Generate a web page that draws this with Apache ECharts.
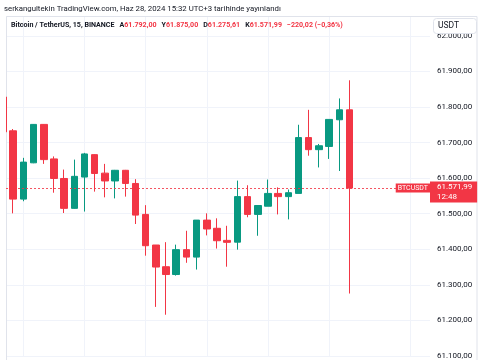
<!DOCTYPE html>
<html><head><meta charset="utf-8">
<script src="https://cdn.jsdelivr.net/npm/echarts@6/dist/echarts.min.js"></script>
<style>html,body{margin:0;padding:0;background:#fff}#c{width:485px;height:360px}</style>
</head><body><div id="c"></div>
<script>
// ---- data (BTCUSDT 15m) ----
const openP  = [61828,61733,61541,61643,61751,61654,61599,61515,61603,61666,61614,61592,61622,61585,61498,61412,61351,61329,61399,61378,61482,61459,61425,61420,61548,61498,61521,61557,61548,61557,61714,61680,61689,61764,61792.00];
const closeP = [61730,61541,61645,61751,61652,61599,61515,61605,61668,61613,61592,61622,61585,61496,61410,61350,61329,61399,61378,61482,61457,61424,61419.5,61548,61498,61523,61557,61548,61559,61714,61680,61691,61765,61792.01,61571.99];
const highP  = [61835,61738,61657,61752,61752,61661,61624,61652,61671,61667,61640,61623,61623,61597,61524,61412,61420,61413,61452,61482,61501,61487,61466,61593,61580,61523,61596,61574,61568,61750,61792,61696,61765,61824,61875.00];
const lowP   = [61725,61501,61535,61642,61640,61559,61502,61514,61506,61562,61546,61543,61548,61471,61382,61238,61216,61326,61362,61343,61439,61402,61351,61399,61490,61438,61521,61498,61484,61557,61663,61630,61654,61620,61275.61];
const timeGridIdx = [2,8,14,20,26,32,40];
const headerText = 'serkangultekin TradingView.com, Haz 28, 2024 15:32 UTC+3 tarihinde yayınlandı';
const legendName = 'Bitcoin / TetherUS, 15, BINANCE';
const symbolName = 'BTCUSDT';
const timeLeft = '12:48';
const currency = 'USDT';

const UP = '#089981', DOWN = '#f23645';
function fmt(v){
  const s = Math.abs(v).toFixed(2).split('.');
  return (v<0?'\u2212':'') + s[0].replace(/\B(?=(\d{3})+(?!\d))/g,'.') + ',' + s[1];
}
const n = openP.length;
const candles = openP.map((o,i)=>[i,o,closeP[i],lowP[i],highP[i]]);
const lastO = openP[n-1], lastH = highP[n-1], lastL = lowP[n-1], lastC = closeP[n-1];
const chg = lastC - closeP[n-2];
const pct = chg / closeP[n-2] * 100;
const legendRich = '{a|' + legendName + '}{s| }{a|A}{r|' + fmt(lastO) + '}{s| }{a|Y}{r|' + fmt(lastH) + '}{s| }{a|D}{r|' + fmt(lastL) + '}{s| }{a|K}{r|' + fmt(lastC) + '}{s| }{r|' + fmt(chg) + ' (' + fmt(pct) + '%)}';

const FONT = 'Roboto';
const chart = echarts.init(document.getElementById('c'), null, {renderer:'canvas'});
chart.setOption({
  animation: false,
  backgroundColor: '#fff',
  textStyle: {fontFamily: FONT},
  title: [
    {text: headerText, left: 4, top: 5.5, padding: 0, textStyle: {fontSize: 7.8, fontWeight: 'normal', color: '#131722', fontFamily: FONT}},
    {text: legendRich, left: 11, top: 21.5, padding: 0, textStyle: {rich: {
      a: {fontSize: 7.1, color: '#131722', fontFamily: FONT},
      r: {fontSize: 7.1, color: DOWN, fontFamily: FONT},
      s: {fontSize: 7.1, width: 5}
    }}}
  ],
  grid: {left: 6, right: 55, top: 16, bottom: 1.1, containLabel: false},
  xAxis: {type: 'value', min: 0.294, max: 41.9, axisLine: {show: false}, axisTick: {show: false}, axisLabel: {show: false}, splitLine: {show: false}},
  yAxis: {type: 'value', position: 'right', min: 61100, max: 62055.7, interval: 100, scale: true,
    axisLine: {show: false}, axisTick: {show: false},
    splitLine: {show: true, lineStyle: {color: '#f0f3fa', width: 1}},
    axisLabel: {showMaxLabel: false, formatter: v => fmt(v), color: '#131722', fontSize: 8, margin: 7, fontFamily: FONT}
  },
  graphic: [
    {type: 'rect', z: 1, silent: true, shape: {x: 6.5, y: 16.5, width: 470.5, height: 350}, style: {fill: 'none', stroke: '#e0e3eb', lineWidth: 1}},
    {type: 'rect', z: 40, silent: true, shape: {x: 0, y: 17, width: 6, height: 343}, style: {fill: '#fff'}},
    {type: 'rect', z: 100, silent: true, shape: {x: 433.5, y: 18.5, width: 43, height: 15, r: 3}, style: {fill: '#fff', stroke: '#e0e3eb', lineWidth: 1}},
    {type: 'text', z: 101, silent: true, x: 438, y: 26, style: {text: currency, fill: '#131722', font: '8.5px Roboto', verticalAlign: 'middle'}}
  ],
  series: [
    {type: 'line', data: [], silent: true, z: 0,
      markLine: {z: 0, silent: true, symbol: ['none','none'], label: {show: false},
        lineStyle: {color: '#f0f3fa', type: 'solid', width: 1},
        data: timeGridIdx.map(v => ({xAxis: v}))}
    },
    {type: 'candlestick', z: 2, clip: true, data: candles, encode: {x: 0, y: [1,2,3,4]}, barWidth: 7,
      itemStyle: {color: UP, color0: DOWN, borderColor: UP, borderColor0: DOWN, borderWidth: 1},
      markLine: {silent: true, symbol: ['none','none'], z: 5,
        data: [
          {yAxis: lastC, lineStyle: {color: 'rgba(242,54,69,0.6)', type: [2,2], width: 1},
            label: {show: true, position: 'end', distance: 0, offset: [0,4], formatter: fmt(lastC) + '\n' + timeLeft,
              backgroundColor: DOWN, color: '#fff', fontSize: 8, lineHeight: 9.5, padding: [1,5,1,7], fontFamily: FONT}},
          {yAxis: lastC, lineStyle: {color: 'rgba(242,54,69,0.6)', type: [2,2], width: 1},
            label: {show: true, position: 'insideEnd', distance: 0, formatter: symbolName,
              backgroundColor: DOWN, color: '#fff', fontSize: 7, padding: [1,2,1,2], fontFamily: FONT}}
        ]}
    }
  ]
});
</script></body></html>
